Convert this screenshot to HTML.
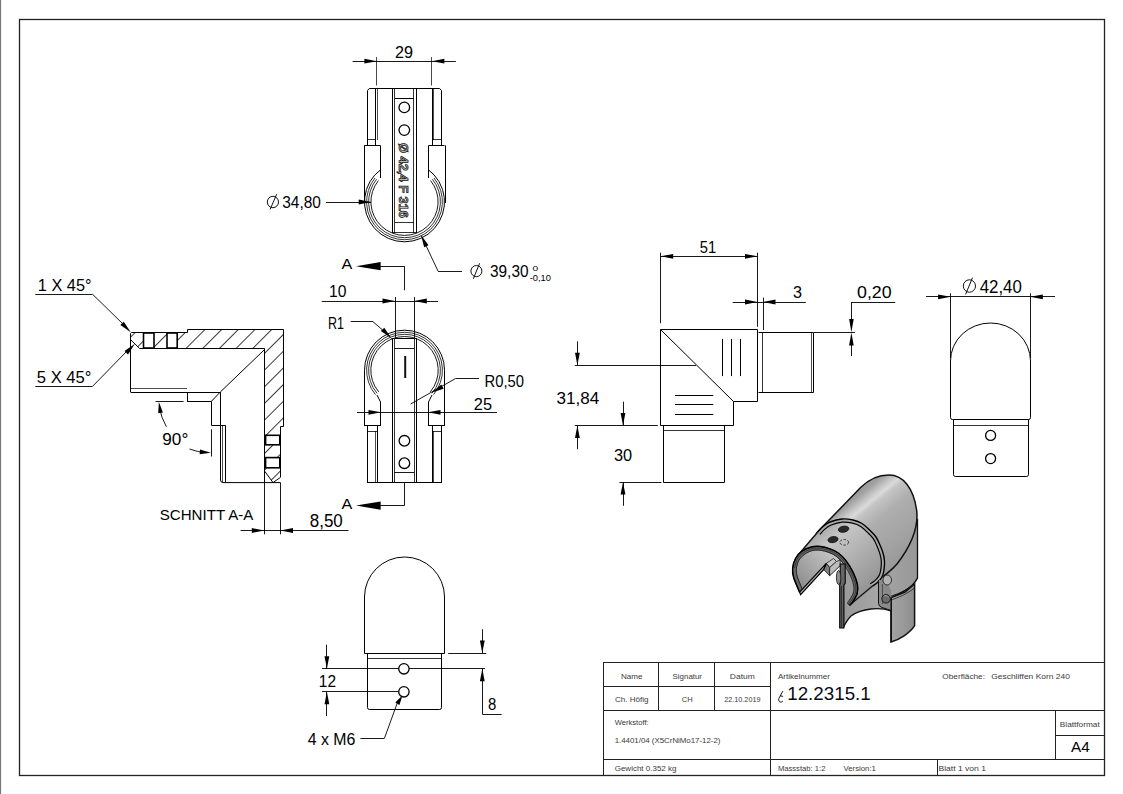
<!DOCTYPE html>
<html><head><meta charset="utf-8"><title>Drawing</title>
<style>html,body{margin:0;padding:0;background:#fff;} svg{display:block;}</style></head>
<body><svg width="1123" height="794" viewBox="0 0 1123 794" font-family="Liberation Sans, sans-serif">
<line x1="0.5" y1="0" x2="0.5" y2="794" stroke="#777" stroke-width="1.2" />
<rect x="19.5" y="19.5" width="1085.0" height="756.0" fill="none" stroke="#222" stroke-width="1.3" />
<line x1="376.5" y1="57" x2="376.5" y2="85.5" stroke="#333" stroke-width="0.9" />
<line x1="431.5" y1="57" x2="431.5" y2="85.5" stroke="#333" stroke-width="0.9" />
<line x1="352.6" y1="61.5" x2="455.9" y2="61.5" stroke="#000" stroke-width="0.9" />
<path d="M376.90,61.20 L364.40,63.60 L364.40,58.80 Z" fill="#000" stroke="none"/>
<path d="M431.90,61.20 L444.40,58.80 L444.40,63.60 Z" fill="#000" stroke="none"/>
<text x="395" y="58" font-family="Liberation Sans" font-size="17.2" fill="#000" text-anchor="start" textLength="18" lengthAdjust="spacingAndGlyphs" >29</text>
<path d="M367.5,145 L367.5,90.5 L369.3,88.5 L439.7,88.5 L441.5,90.5 L441.5,145" fill="none" stroke="#000" stroke-width="1.0" />
<line x1="375.5" y1="88.5" x2="375.5" y2="145" stroke="#000" stroke-width="1.0" />
<line x1="377.5" y1="88.5" x2="377.5" y2="140" stroke="#000" stroke-width="0.7" />
<line x1="367.1" y1="139.5" x2="375.6" y2="139.5" stroke="#000" stroke-width="0.8" />
<line x1="432.5" y1="88.5" x2="432.5" y2="145" stroke="#000" stroke-width="1.0" />
<line x1="433.5" y1="88.5" x2="433.5" y2="140" stroke="#000" stroke-width="0.7" />
<line x1="432" y1="139.5" x2="441.4" y2="139.5" stroke="#000" stroke-width="0.8" />
<path d="M364.5,145.5 L380.5,145.5 L380.5,178" fill="none" stroke="#000" stroke-width="1.0" />
<path d="M444.5,145.5 L428.5,145.5 L428.5,178" fill="none" stroke="#000" stroke-width="1.0" />
<line x1="364.5" y1="145.4" x2="364.5" y2="203" stroke="#000" stroke-width="1.0" />
<line x1="445.5" y1="145.4" x2="445.5" y2="203" stroke="#000" stroke-width="1.0" />
<path d="M380.90,169.50 A40.0,40.0 0 1 0 428.00,169.43" fill="none" stroke="#000" stroke-width="1.0" />
<path d="M375.05,177.95 A37.9,37.9 0 1 0 433.95,177.95" fill="none" stroke="#000" stroke-width="0.8" />
<path d="M376.60,179.21 A35.9,35.9 0 1 0 432.40,179.21" fill="none" stroke="#000" stroke-width="0.8" />
<path d="M378.39,180.65 A33.6,33.6 0 1 0 430.61,180.65" fill="none" stroke="#000" stroke-width="0.9" />
<line x1="392.5" y1="88.5" x2="392.5" y2="233" stroke="#000" stroke-width="1.0" />
<line x1="416.5" y1="88.5" x2="416.5" y2="233" stroke="#000" stroke-width="1.0" />
<line x1="394.5" y1="88.5" x2="394.5" y2="233" stroke="#000" stroke-width="0.8" />
<line x1="413.5" y1="88.5" x2="413.5" y2="233" stroke="#000" stroke-width="0.8" />
<line x1="394.9" y1="98.5" x2="413.9" y2="98.5" stroke="#000" stroke-width="1.0" />
<line x1="394.9" y1="222.5" x2="413.9" y2="222.5" stroke="#000" stroke-width="0.8" />
<line x1="392.8" y1="232.5" x2="416" y2="232.5" stroke="#000" stroke-width="0.8" />
<circle cx="404.3" cy="107.4" r="5.3" fill="none" stroke="#000" stroke-width="1.3"/>
<circle cx="404.3" cy="130.1" r="5.3" fill="none" stroke="#000" stroke-width="1.3"/>
<text x="0" y="0" font-family="Liberation Sans" font-weight="bold" font-size="13.5" fill="#bbb" stroke="#111" stroke-width="0.75" transform="translate(399.3,143) rotate(90)" textLength="75" lengthAdjust="spacingAndGlyphs">Ø 42,4 F 316</text>
<line x1="326" y1="202.5" x2="371" y2="202.5" stroke="#000" stroke-width="0.9" />
<path d="M371.20,202.00 L358.70,204.40 L358.70,199.60 Z" fill="#000" stroke="none"/>
<ellipse cx="272.9" cy="202" rx="5.6" ry="5.71" fill="none" stroke="#111" stroke-width="1.0"/>
<line x1="276.7" y1="194.2" x2="270.1" y2="209.5" stroke="#111" stroke-width="1.0" />
<text x="282.3" y="208" font-family="Liberation Sans" font-size="16.3" fill="#000" text-anchor="start" textLength="38.6" lengthAdjust="spacingAndGlyphs" >34,80</text>
<line x1="462" y1="271.5" x2="438" y2="271.5" stroke="#000" stroke-width="0.9" />
<line x1="438" y1="271" x2="421.5" y2="236" stroke="#000" stroke-width="0.9" />
<path d="M421.00,235.00 L428.50,245.28 L424.16,247.33 Z" fill="#000" stroke="none"/>
<ellipse cx="476.4" cy="271.1" rx="5.5" ry="5.61" fill="none" stroke="#111" stroke-width="1.0"/>
<line x1="479.6" y1="263.3" x2="473.3" y2="278.9" stroke="#111" stroke-width="1.0" />
<text x="490" y="277.4" font-family="Liberation Sans" font-size="16" fill="#000" text-anchor="start" textLength="38.5" lengthAdjust="spacingAndGlyphs" >39,30</text>
<text x="532.6" y="271.2" font-family="Liberation Sans" font-size="7.9" fill="#000" text-anchor="start" textLength="5.7" lengthAdjust="spacingAndGlyphs" >0</text>
<text x="529.7" y="281.2" font-family="Liberation Sans" font-size="9.3" fill="#000" text-anchor="start" textLength="21.2" lengthAdjust="spacingAndGlyphs" >-0,10</text>
<line x1="404.5" y1="266.2" x2="404.5" y2="290.3" stroke="#000" stroke-width="0.9" />
<line x1="380" y1="266.5" x2="404.4" y2="266.5" stroke="#000" stroke-width="0.9" />
<path d="M356.00,266.20 L380.60,262.10 L380.60,270.30 Z" fill="#000" stroke="none"/>
<text x="341.6" y="268.9" font-family="Liberation Sans" font-size="15" fill="#000" text-anchor="start" textLength="10.8" lengthAdjust="spacingAndGlyphs" >A</text>
<line x1="404.5" y1="482" x2="404.5" y2="505.6" stroke="#000" stroke-width="0.9" />
<line x1="380" y1="505.5" x2="404.5" y2="505.5" stroke="#000" stroke-width="0.9" />
<path d="M356.00,505.60 L380.60,501.50 L380.60,509.70 Z" fill="#000" stroke="none"/>
<text x="341.6" y="508.7" font-family="Liberation Sans" font-size="15" fill="#000" text-anchor="start" textLength="10.8" lengthAdjust="spacingAndGlyphs" >A</text>
<line x1="321.8" y1="301.5" x2="438" y2="301.5" stroke="#000" stroke-width="0.9" />
<path d="M395.00,301.00 L382.50,303.40 L382.50,298.60 Z" fill="#000" stroke="none"/>
<path d="M414.30,301.00 L426.80,298.60 L426.80,303.40 Z" fill="#000" stroke="none"/>
<text x="329" y="297" font-family="Liberation Sans" font-size="17" fill="#000" text-anchor="start" textLength="17.4" lengthAdjust="spacingAndGlyphs" >10</text>
<line x1="395.5" y1="297" x2="395.5" y2="338" stroke="#000" stroke-width="0.9" />
<line x1="414.5" y1="297" x2="414.5" y2="338" stroke="#000" stroke-width="0.9" />
<path d="M364.5,425.5 L364.5,370.2 A40,40 0 0 1 444.5,370.2 L444.5,425.5" fill="none" stroke="#000" stroke-width="1.0" />
<path d="M375.47,394.56 A37.9,37.9 0 1 1 433.53,394.56" fill="none" stroke="#000" stroke-width="0.8" />
<path d="M377.00,393.28 A35.9,35.9 0 1 1 432.00,393.28" fill="none" stroke="#000" stroke-width="0.8" />
<path d="M378.68,391.86 A33.7,33.7 0 1 1 430.32,391.86" fill="none" stroke="#000" stroke-width="0.9" />
<path d="M377,395 L380.5,402 L380.5,425.5" fill="none" stroke="#000" stroke-width="1.0" />
<path d="M432,395 L428.5,402 L428.5,425.5" fill="none" stroke="#000" stroke-width="1.0" />
<line x1="364" y1="425.5" x2="381" y2="425.5" stroke="#000" stroke-width="1.0" />
<line x1="428" y1="425.5" x2="445" y2="425.5" stroke="#000" stroke-width="1.0" />
<line x1="392.5" y1="338" x2="392.5" y2="482" stroke="#000" stroke-width="1.0" />
<line x1="394.5" y1="338" x2="394.5" y2="482" stroke="#000" stroke-width="0.8" />
<line x1="414.5" y1="338" x2="414.5" y2="482" stroke="#000" stroke-width="0.8" />
<line x1="416.5" y1="338" x2="416.5" y2="482" stroke="#000" stroke-width="1.0" />
<line x1="391.4" y1="338.5" x2="416.4" y2="338.5" stroke="#000" stroke-width="1.0" />
<line x1="394.4" y1="348.5" x2="414.3" y2="348.5" stroke="#000" stroke-width="0.9" />
<line x1="405.2" y1="356" x2="405.2" y2="378" stroke="#111" stroke-width="2.0" />
<circle cx="404.4" cy="440.8" r="5.3" fill="none" stroke="#000" stroke-width="1.3"/>
<circle cx="404.4" cy="463.2" r="5.3" fill="none" stroke="#000" stroke-width="1.3"/>
<line x1="394.4" y1="472.5" x2="414.3" y2="472.5" stroke="#000" stroke-width="0.9" />
<rect x="367.5" y="425.5" width="10.0" height="57.0" fill="none" stroke="#000" stroke-width="1.0" />
<line x1="367.4" y1="431.5" x2="377.3" y2="431.5" stroke="#000" stroke-width="0.8" />
<line x1="375.5" y1="431" x2="375.5" y2="482" stroke="#000" stroke-width="0.7" />
<rect x="432.5" y="425.5" width="9.0" height="57.0" fill="none" stroke="#000" stroke-width="1.0" />
<line x1="432" y1="431.5" x2="441.5" y2="431.5" stroke="#000" stroke-width="0.8" />
<line x1="433.5" y1="431" x2="433.5" y2="482" stroke="#000" stroke-width="0.7" />
<line x1="367.4" y1="482.5" x2="441.5" y2="482.5" stroke="#000" stroke-width="1.0" />
<text x="328" y="329" font-family="Liberation Sans" font-size="17" fill="#000" text-anchor="start" textLength="16" lengthAdjust="spacingAndGlyphs" >R1</text>
<line x1="350.7" y1="321.5" x2="373" y2="321.5" stroke="#000" stroke-width="0.9" />
<line x1="373" y1="321.7" x2="386" y2="333" stroke="#000" stroke-width="0.9" />
<path d="M391.40,338.20 L380.86,331.06 L384.26,327.66 Z" fill="#000" stroke="none"/>
<text x="484.5" y="386.5" font-family="Liberation Sans" font-size="17" fill="#000" text-anchor="start" textLength="39.5" lengthAdjust="spacingAndGlyphs" >R0,50</text>
<line x1="479" y1="378.5" x2="455.6" y2="378.5" stroke="#000" stroke-width="0.9" />
<line x1="455.6" y1="378.5" x2="410.6" y2="404" stroke="#000" stroke-width="0.9" />
<path d="M432.00,392.50 L441.28,384.52 L443.63,388.70 Z" fill="#000" stroke="none"/>
<text x="473.8" y="409.5" font-family="Liberation Sans" font-size="17" fill="#000" text-anchor="start" textLength="18.2" lengthAdjust="spacingAndGlyphs" >25</text>
<line x1="357" y1="412.5" x2="497" y2="412.5" stroke="#000" stroke-width="0.9" />
<path d="M381.00,412.30 L368.50,414.70 L368.50,409.90 Z" fill="#000" stroke="none"/>
<path d="M428.00,412.30 L440.50,409.90 L440.50,414.70 Z" fill="#000" stroke="none"/>
<defs><pattern id="hatch" patternUnits="userSpaceOnUse" width="11.795" height="20" patternTransform="rotate(45)"><line x1="0.5" y1="-1" x2="0.5" y2="21" stroke="#222" stroke-width="0.9"/></pattern></defs>
<path d="M130.6,339.7 L130.6,333.6 L131.4,332 L187.4,332 L187.4,329.4 L283.5,329.4 L283.5,426 L280.7,426 L280.7,477 L273,482.6 L264.7,471.2 L264.7,348.5 L139.7,348.5 Z" fill="url(#hatch)" stroke="none" stroke-width="0" />
<path d="M130.5,392 L130.5,333.6 L131.4,332.5 L187.5,332.5 L187.5,329.5 L283.5,329.5 L283.5,426.5 L280.5,426.5 L280.5,477.3 L273,482.6" fill="none" stroke="#000" stroke-width="1.0" />
<line x1="264.5" y1="348.5" x2="264.5" y2="482.6" stroke="#000" stroke-width="1.0" />
<line x1="139.7" y1="348.5" x2="264.7" y2="348.5" stroke="#000" stroke-width="1.0" />
<line x1="130.6" y1="339.7" x2="139.7" y2="348.5" stroke="#000" stroke-width="1.0" />
<line x1="264.7" y1="471.2" x2="273" y2="482.6" stroke="#000" stroke-width="1.0" />
<rect x="143.5" y="333" width="10.5" height="15" fill="#fff" stroke="#000" stroke-width="1.6" />
<rect x="167" y="333" width="10.199999999999989" height="15" fill="#fff" stroke="#000" stroke-width="1.6" />
<rect x="265.6" y="435.3" width="14.199999999999989" height="9.5" fill="#fff" stroke="#000" stroke-width="1.6" />
<rect x="265.6" y="457.6" width="14.199999999999989" height="10.199999999999989" fill="#fff" stroke="#000" stroke-width="1.6" />
<line x1="130.6" y1="392.5" x2="187" y2="392.5" stroke="#000" stroke-width="1.0" />
<line x1="131" y1="388.5" x2="187" y2="388.5" stroke="#000" stroke-width="0.7" />
<line x1="187" y1="392.5" x2="220.3" y2="392.5" stroke="#000" stroke-width="1.0" />
<line x1="187.5" y1="392" x2="187.5" y2="401.3" stroke="#000" stroke-width="1.0" />
<line x1="187" y1="401.5" x2="211.4" y2="401.5" stroke="#000" stroke-width="1.0" />
<line x1="211.4" y1="401.3" x2="220.3" y2="392" stroke="#000" stroke-width="1.0" />
<line x1="220.3" y1="392" x2="264.6" y2="349.5" stroke="#000" stroke-width="1.0" />
<line x1="211.5" y1="401.3" x2="211.5" y2="425.3" stroke="#000" stroke-width="1.0" />
<line x1="211.4" y1="425.5" x2="225.4" y2="425.5" stroke="#000" stroke-width="1.0" />
<line x1="220.5" y1="392" x2="220.5" y2="480" stroke="#000" stroke-width="1.0" />
<line x1="222.5" y1="425.3" x2="222.5" y2="482" stroke="#000" stroke-width="0.7" />
<line x1="225.5" y1="425.3" x2="225.5" y2="482.6" stroke="#000" stroke-width="1.0" />
<path d="M220.3,479 Q220.3,482.6 223,482.6 L280.7,482.6" fill="none" stroke="#000" stroke-width="1.0" />
<text x="37.8" y="290.7" font-family="Liberation Sans" font-size="16.5" fill="#000" text-anchor="start" textLength="53.7" lengthAdjust="spacingAndGlyphs" >1 X 45°</text>
<line x1="35.3" y1="294.5" x2="92.5" y2="294.5" stroke="#000" stroke-width="0.9" />
<line x1="92.5" y1="294.2" x2="125" y2="326" stroke="#000" stroke-width="0.9" />
<path d="M130.80,332.30 L120.34,325.05 L123.76,321.69 Z" fill="#000" stroke="none"/>
<text x="36.8" y="382.6" font-family="Liberation Sans" font-size="16.5" fill="#000" text-anchor="start" textLength="54.7" lengthAdjust="spacingAndGlyphs" >5 X 45°</text>
<line x1="35.3" y1="386.5" x2="92.5" y2="386.5" stroke="#000" stroke-width="0.9" />
<line x1="92.5" y1="386.4" x2="129" y2="349" stroke="#000" stroke-width="0.9" />
<path d="M134.90,343.70 L128.02,354.41 L124.54,351.10 Z" fill="#000" stroke="none"/>
<line x1="155.6" y1="401.5" x2="183.6" y2="401.5" stroke="#000" stroke-width="0.9" />
<path d="M166.4,426.8 Q161,417 159.5,408" fill="none" stroke="#000" stroke-width="0.9" />
<path d="M158.90,402.00 L162.91,412.52 L158.16,413.23 Z" fill="#000" stroke="none"/>
<text x="162.3" y="445.2" font-family="Liberation Sans" font-size="17" fill="#000" text-anchor="start" textLength="26" lengthAdjust="spacingAndGlyphs" >90°</text>
<path d="M189.5,449 Q198,452 204,452.5" fill="none" stroke="#000" stroke-width="0.9" />
<path d="M210.80,452.70 L199.64,454.22 L200.03,449.43 Z" fill="#000" stroke="none"/>
<line x1="211.5" y1="429.3" x2="211.5" y2="456.5" stroke="#000" stroke-width="0.9" />
<text x="159.8" y="520.3" font-family="Liberation Sans" font-size="15.3" fill="#000" text-anchor="start" textLength="93.5" lengthAdjust="spacingAndGlyphs" >SCHNITT A-A</text>
<line x1="264.5" y1="483" x2="264.5" y2="534.3" stroke="#000" stroke-width="0.9" />
<line x1="280.5" y1="483" x2="280.5" y2="534.3" stroke="#000" stroke-width="0.9" />
<line x1="240.6" y1="530.5" x2="348.5" y2="530.5" stroke="#000" stroke-width="0.9" />
<path d="M264.30,530.50 L251.80,532.90 L251.80,528.10 Z" fill="#000" stroke="none"/>
<path d="M280.50,530.50 L293.00,528.10 L293.00,532.90 Z" fill="#000" stroke="none"/>
<text x="309.8" y="527.4" font-family="Liberation Sans" font-size="17.5" fill="#000" text-anchor="start" textLength="33" lengthAdjust="spacingAndGlyphs" >8,50</text>
<path d="M364.5,653.5 L364.5,597 A40,40 0 0 1 444.5,597 L444.5,653.5 Z" fill="none" stroke="#000" stroke-width="1.0" />
<path d="M367.5,653.5 L367.5,707.5 Q367.5,709.5 369.5,709.5 L439.5,709.5 Q441.5,709.5 441.5,707.5 L441.5,653.5" fill="none" stroke="#000" stroke-width="1.0" />
<line x1="367" y1="658.5" x2="441.9" y2="658.5" stroke="#000" stroke-width="0.8" />
<circle cx="403.9" cy="668.8" r="5.2" fill="none" stroke="#000" stroke-width="1.3"/>
<circle cx="403.9" cy="691.8" r="5.2" fill="none" stroke="#000" stroke-width="1.3"/>
<line x1="322" y1="668.5" x2="398.6" y2="668.5" stroke="#000" stroke-width="0.9" />
<line x1="409.2" y1="668.5" x2="485" y2="668.5" stroke="#000" stroke-width="0.9" />
<line x1="322" y1="691.5" x2="398.6" y2="691.5" stroke="#000" stroke-width="0.9" />
<line x1="326.5" y1="644.7" x2="326.5" y2="668.8" stroke="#000" stroke-width="0.9" />
<path d="M326.90,668.80 L324.50,656.30 L329.30,656.30 Z" fill="#000" stroke="none"/>
<line x1="326.5" y1="691.8" x2="326.5" y2="716" stroke="#000" stroke-width="0.9" />
<path d="M326.90,691.80 L329.30,704.30 L324.50,704.30 Z" fill="#000" stroke="none"/>
<text x="318.8" y="687" font-family="Liberation Sans" font-size="16" fill="#000" text-anchor="start" textLength="17.2" lengthAdjust="spacingAndGlyphs" >12</text>
<line x1="448.2" y1="653.5" x2="486.2" y2="653.5" stroke="#000" stroke-width="0.9" />
<line x1="482.5" y1="629.2" x2="482.5" y2="653" stroke="#000" stroke-width="0.9" />
<path d="M482.30,653.00 L479.90,640.50 L484.70,640.50 Z" fill="#000" stroke="none"/>
<line x1="482.5" y1="668.8" x2="482.5" y2="714" stroke="#000" stroke-width="0.9" />
<path d="M482.30,668.80 L484.70,681.30 L479.90,681.30 Z" fill="#000" stroke="none"/>
<line x1="482.3" y1="714.5" x2="501.7" y2="714.5" stroke="#000" stroke-width="0.9" />
<text x="487.9" y="709.6" font-family="Liberation Sans" font-size="16" fill="#000" text-anchor="start" textLength="8.3" lengthAdjust="spacingAndGlyphs" >8</text>
<text x="307.8" y="744.5" font-family="Liberation Sans" font-size="16" fill="#000" text-anchor="start" textLength="47.6" lengthAdjust="spacingAndGlyphs" >4 x M6</text>
<line x1="360.4" y1="738.5" x2="384.5" y2="738.5" stroke="#000" stroke-width="0.9" />
<line x1="384.5" y1="738.1" x2="398" y2="701" stroke="#000" stroke-width="0.9" />
<path d="M402.50,695.20 L399.41,705.01 L395.30,702.54 Z" fill="#000" stroke="none"/>
<path d="M660.5,329.5 L757.5,329.5 L757.5,401.5 L733.5,401.5 L733.5,425.5 L660.5,425.5 Z" fill="none" stroke="#000" stroke-width="1.0" />
<line x1="660.5" y1="329.5" x2="733.5" y2="401.5" stroke="#000" stroke-width="1.0" />
<line x1="722.5" y1="338.9" x2="722.5" y2="376.1" stroke="#000" stroke-width="1.0" />
<line x1="731.5" y1="338.9" x2="731.5" y2="376.1" stroke="#000" stroke-width="1.0" />
<line x1="740.5" y1="338.9" x2="740.5" y2="376.1" stroke="#000" stroke-width="1.0" />
<line x1="675" y1="395.5" x2="713.3" y2="395.5" stroke="#000" stroke-width="1.0" />
<line x1="675" y1="404.5" x2="713.3" y2="404.5" stroke="#000" stroke-width="1.0" />
<line x1="675" y1="414.5" x2="713.3" y2="414.5" stroke="#000" stroke-width="1.0" />
<path d="M758.5,332.5 L813.5,332.5 L813.5,392.5 L758.5,392.5" fill="none" stroke="#000" stroke-width="1.0" />
<line x1="811.5" y1="332.3" x2="811.5" y2="392.6" stroke="#000" stroke-width="0.7" />
<line x1="762.5" y1="332.3" x2="762.5" y2="392.6" stroke="#000" stroke-width="0.8" />
<path d="M663.5,425.5 L663.5,482.5 L724.5,482.5 L724.5,425.5" fill="none" stroke="#000" stroke-width="1.0" />
<line x1="663.3" y1="430.5" x2="724.3" y2="430.5" stroke="#000" stroke-width="0.8" />
<line x1="660.5" y1="252.7" x2="660.5" y2="323.2" stroke="#000" stroke-width="0.9" />
<line x1="757.5" y1="252.7" x2="757.5" y2="326.8" stroke="#000" stroke-width="0.9" />
<line x1="660.7" y1="256.5" x2="757.5" y2="256.5" stroke="#000" stroke-width="0.9" />
<path d="M660.70,256.30 L673.20,253.90 L673.20,258.70 Z" fill="#000" stroke="none"/>
<path d="M757.50,256.30 L745.00,258.70 L745.00,253.90 Z" fill="#000" stroke="none"/>
<text x="699.8" y="252.7" font-family="Liberation Sans" font-size="16.5" fill="#000" text-anchor="start" textLength="16.4" lengthAdjust="spacingAndGlyphs" >51</text>
<line x1="763.5" y1="297.6" x2="763.5" y2="330" stroke="#000" stroke-width="0.9" />
<line x1="732.7" y1="302.5" x2="805.8" y2="302.5" stroke="#000" stroke-width="0.9" />
<path d="M757.50,302.00 L745.00,304.40 L745.00,299.60 Z" fill="#000" stroke="none"/>
<path d="M763.00,302.00 L775.50,299.60 L775.50,304.40 Z" fill="#000" stroke="none"/>
<text x="793" y="298.3" font-family="Liberation Sans" font-size="16.5" fill="#000" text-anchor="start" textLength="9" lengthAdjust="spacingAndGlyphs" >3</text>
<line x1="813.8" y1="332.5" x2="855" y2="332.5" stroke="#000" stroke-width="0.9" />
<line x1="851.4" y1="302.5" x2="895.3" y2="302.5" stroke="#000" stroke-width="0.9" />
<line x1="851.5" y1="302" x2="851.5" y2="322" stroke="#000" stroke-width="0.9" />
<path d="M851.40,332.30 L849.10,318.90 L853.70,318.90 Z" fill="#000" stroke="none"/>
<line x1="851.5" y1="344" x2="851.5" y2="356" stroke="#000" stroke-width="0.9" />
<path d="M851.40,332.60 L853.70,345.60 L849.10,345.60 Z" fill="#000" stroke="none"/>
<text x="857" y="298.3" font-family="Liberation Sans" font-size="16.5" fill="#000" text-anchor="start" textLength="34.6" lengthAdjust="spacingAndGlyphs" >0,20</text>
<line x1="574.8" y1="365.5" x2="696" y2="365.5" stroke="#000" stroke-width="0.9" />
<line x1="577.5" y1="341.4" x2="577.5" y2="365.2" stroke="#000" stroke-width="0.9" />
<path d="M577.40,365.20 L575.00,352.70 L579.80,352.70 Z" fill="#000" stroke="none"/>
<line x1="574.8" y1="425.5" x2="657.8" y2="425.5" stroke="#000" stroke-width="0.9" />
<line x1="577.5" y1="425.5" x2="577.5" y2="449.2" stroke="#000" stroke-width="0.9" />
<path d="M577.40,425.50 L579.80,438.00 L575.00,438.00 Z" fill="#000" stroke="none"/>
<text x="556.6" y="403.5" font-family="Liberation Sans" font-size="16.5" fill="#000" text-anchor="start" textLength="42.7" lengthAdjust="spacingAndGlyphs" >31,84</text>
<line x1="623.5" y1="401.7" x2="623.5" y2="425.5" stroke="#000" stroke-width="0.9" />
<path d="M623.00,425.50 L620.60,413.00 L625.40,413.00 Z" fill="#000" stroke="none"/>
<line x1="619.4" y1="482.5" x2="661.4" y2="482.5" stroke="#000" stroke-width="0.9" />
<line x1="623.5" y1="482.1" x2="623.5" y2="505.8" stroke="#000" stroke-width="0.9" />
<path d="M623.00,482.10 L625.40,494.60 L620.60,494.60 Z" fill="#000" stroke="none"/>
<text x="614" y="460.9" font-family="Liberation Sans" font-size="16.5" fill="#000" text-anchor="start" textLength="18.2" lengthAdjust="spacingAndGlyphs" >30</text>
<path d="M950.5,417.5 L950.5,361 A40,38 0 0 1 1030.5,361 L1030.5,417.5 Q1030.5,419.5 1028.5,419.5 L952.5,419.5 Q950.5,419.5 950.5,417.5" fill="none" stroke="#000" stroke-width="1.0" />
<path d="M953.5,419.5 L953.5,474.5 Q953.5,476.5 955.5,476.5 L1026.5,476.5 Q1028.5,476.5 1028.5,474.5 L1028.5,419.5" fill="none" stroke="#000" stroke-width="1.0" />
<line x1="953.5" y1="425.5" x2="1028.3" y2="425.5" stroke="#000" stroke-width="0.8" />
<circle cx="990.6" cy="435.4" r="5" fill="none" stroke="#000" stroke-width="1.3"/>
<circle cx="990.6" cy="458.6" r="5" fill="none" stroke="#000" stroke-width="1.3"/>
<line x1="950.5" y1="293.3" x2="950.5" y2="358" stroke="#000" stroke-width="0.9" />
<line x1="1030.5" y1="293.3" x2="1030.5" y2="358" stroke="#000" stroke-width="0.9" />
<line x1="926" y1="296.5" x2="1055" y2="296.5" stroke="#000" stroke-width="0.9" />
<path d="M950.60,296.80 L938.10,299.20 L938.10,294.40 Z" fill="#000" stroke="none"/>
<path d="M1030.30,296.80 L1042.80,294.40 L1042.80,299.20 Z" fill="#000" stroke="none"/>
<ellipse cx="969.4" cy="286" rx="6.1" ry="6.22" fill="none" stroke="#111" stroke-width="1.0"/>
<line x1="972.5" y1="277.7" x2="965.6" y2="294.4" stroke="#111" stroke-width="1.0" />
<text x="979.7" y="293" font-family="Liberation Sans" font-size="17.5" fill="#000" text-anchor="start" textLength="42.1" lengthAdjust="spacingAndGlyphs" >42,40</text>
<line x1="603.1" y1="662.5" x2="1104" y2="662.5" stroke="#222" stroke-width="1.0" />
<line x1="603.5" y1="662.4" x2="603.5" y2="775" stroke="#222" stroke-width="1.0" />
<line x1="658.5" y1="662.4" x2="658.5" y2="710.6" stroke="#222" stroke-width="1.0" />
<line x1="714.5" y1="662.4" x2="714.5" y2="710.6" stroke="#222" stroke-width="1.0" />
<line x1="770.5" y1="662.4" x2="770.5" y2="775" stroke="#222" stroke-width="1.0" />
<line x1="603.1" y1="686.5" x2="770.3" y2="686.5" stroke="#222" stroke-width="1.0" />
<line x1="603.1" y1="710.5" x2="1104" y2="710.5" stroke="#222" stroke-width="1.0" />
<line x1="603.1" y1="759.5" x2="1104" y2="759.5" stroke="#222" stroke-width="1.0" />
<line x1="1055.5" y1="710.6" x2="1055.5" y2="759.2" stroke="#222" stroke-width="1.0" />
<line x1="1055.4" y1="735.5" x2="1104" y2="735.5" stroke="#222" stroke-width="1.0" />
<line x1="937.5" y1="759.2" x2="937.5" y2="775" stroke="#222" stroke-width="1.0" />
<text x="620.9" y="679" font-family="Liberation Sans" font-size="7.8" fill="#3a3a3a" text-anchor="start" textLength="21.6" lengthAdjust="spacingAndGlyphs" >Name</text>
<text x="672.6" y="679" font-family="Liberation Sans" font-size="7.8" fill="#3a3a3a" text-anchor="start" textLength="29.4" lengthAdjust="spacingAndGlyphs" >Signatur</text>
<text x="729.8" y="679" font-family="Liberation Sans" font-size="7.8" fill="#3a3a3a" text-anchor="start" textLength="25" lengthAdjust="spacingAndGlyphs" >Datum</text>
<text x="615" y="702" font-family="Liberation Sans" font-size="7.8" fill="#3a3a3a" text-anchor="start" textLength="33.4" lengthAdjust="spacingAndGlyphs" >Ch. Höfig</text>
<text x="681.8" y="702" font-family="Liberation Sans" font-size="7.8" fill="#3a3a3a" text-anchor="start" textLength="10.9" lengthAdjust="spacingAndGlyphs" >CH</text>
<text x="724.2" y="702" font-family="Liberation Sans" font-size="7.8" fill="#3a3a3a" text-anchor="start" textLength="36.3" lengthAdjust="spacingAndGlyphs" >22.10.2019</text>
<text x="777.9" y="679" font-family="Liberation Sans" font-size="7.8" fill="#3a3a3a" text-anchor="start" textLength="52.1" lengthAdjust="spacingAndGlyphs" >Artikelnummer</text>
<text x="942.3" y="678.5" font-family="Liberation Sans" font-size="7.8" fill="#3a3a3a" text-anchor="start" textLength="42.7" lengthAdjust="spacingAndGlyphs" >Oberfläche:</text>
<text x="991.2" y="678.5" font-family="Liberation Sans" font-size="7.8" fill="#3a3a3a" text-anchor="start" textLength="78.8" lengthAdjust="spacingAndGlyphs" >Geschliffen Korn 240</text>
<path d="M782.6,691.5 L780.4,695.6 M780.4,695.9 L782.7,696.3 M780.6,695.4 C778.9,697.5 778.2,699.5 779,701 C779.8,702.5 781.6,702.6 782.6,701.4" fill="none" stroke="#111" stroke-width="0.95" stroke-linecap="round"/>
<text x="787.2" y="699.7" font-family="Liberation Sans" font-size="18.8" fill="#0a0a14" text-anchor="start" >12.2315.1</text>
<text x="614.7" y="724.5" font-family="Liberation Sans" font-size="7.8" fill="#3a3a3a" text-anchor="start" textLength="34" lengthAdjust="spacingAndGlyphs" >Werkstoff:</text>
<text x="614.7" y="743" font-family="Liberation Sans" font-size="7.8" fill="#3a3a3a" text-anchor="start" textLength="105.8" lengthAdjust="spacingAndGlyphs" >1.4401/04 (X5CrNiMo17-12-2)</text>
<text x="1059.8" y="726.5" font-family="Liberation Sans" font-size="7.8" fill="#3a3a3a" text-anchor="start" textLength="39.9" lengthAdjust="spacingAndGlyphs" >Blattformat</text>
<text x="1071" y="752.2" font-family="Liberation Sans" font-size="14.5" fill="#000" text-anchor="start" textLength="18.7" lengthAdjust="spacingAndGlyphs" >A4</text>
<text x="614.7" y="770.5" font-family="Liberation Sans" font-size="7.8" fill="#3a3a3a" text-anchor="start" textLength="61.8" lengthAdjust="spacingAndGlyphs" >Gewicht 0.352 kg</text>
<text x="777.9" y="770.5" font-family="Liberation Sans" font-size="7.8" fill="#3a3a3a" text-anchor="start" textLength="47.5" lengthAdjust="spacingAndGlyphs" >Massstab: 1:2</text>
<text x="843.5" y="770.5" font-family="Liberation Sans" font-size="7.8" fill="#3a3a3a" text-anchor="start" textLength="32.4" lengthAdjust="spacingAndGlyphs" >Version:1</text>
<text x="938.5" y="770.5" font-family="Liberation Sans" font-size="7.8" fill="#3a3a3a" text-anchor="start" textLength="47.5" lengthAdjust="spacingAndGlyphs" >Blatt 1 von 1</text>
<defs>
<linearGradient id="gDome" gradientUnits="userSpaceOnUse" x1="845" y1="492" x2="905" y2="565">
 <stop offset="0" stop-color="#929292"/><stop offset="0.12" stop-color="#a0a0a0"/><stop offset="0.21" stop-color="#cacaca"/><stop offset="0.25" stop-color="#dadada"/><stop offset="0.30" stop-color="#c4c4c4"/><stop offset="0.45" stop-color="#aeaeae"/><stop offset="0.75" stop-color="#a2a2a2"/><stop offset="1" stop-color="#969696"/></linearGradient>
<linearGradient id="gSleeve" gradientUnits="userSpaceOnUse" x1="812" y1="528" x2="872" y2="596">
 <stop offset="0" stop-color="#9c9c9c"/><stop offset="0.25" stop-color="#c6c6c6"/><stop offset="0.65" stop-color="#a8a8a8"/><stop offset="1" stop-color="#8e8e8e"/></linearGradient>
<linearGradient id="gInner" gradientUnits="userSpaceOnUse" x1="798" y1="585" x2="830" y2="552">
 <stop offset="0" stop-color="#8c8c8c"/><stop offset="0.5" stop-color="#a8a8a8"/><stop offset="1" stop-color="#c4c4c4"/></linearGradient>
<linearGradient id="gSpig" gradientUnits="userSpaceOnUse" x1="891" y1="0" x2="915" y2="0">
 <stop offset="0" stop-color="#a2a2a2"/><stop offset="0.5" stop-color="#9a9a9a"/><stop offset="1" stop-color="#8c8c8c"/></linearGradient>
<linearGradient id="gVert" gradientUnits="userSpaceOnUse" x1="843" y1="0" x2="917" y2="0">
 <stop offset="0" stop-color="#989898"/><stop offset="0.45" stop-color="#a6a6a6"/><stop offset="1" stop-color="#989898"/></linearGradient>
</defs>
<path d="M891,597.5 L891,642 C899,640 910,633 914.6,625.6 L914.6,584 L905,592 Z" fill="url(#gSpig)" stroke="#111" stroke-width="1.5" />
<path d="M843,628 L843,575 L880,560 L917.5,520 L917.5,578 C914,586 905,592 891,597.5 L891,611 C880,607 862,608 851,616 C847,620 845,624 843,628 Z" fill="url(#gVert)" stroke="#111" stroke-width="1.3" />
<path d="M917.3,578 C912,588 902,593 887,597.5" fill="none" stroke="#111" stroke-width="1.0" />
<path d="M816.5,533 L860.6,487.6 C868,480 878,475 889,475 C903,475 914,488 916.8,511.6 C918.5,530 910,547 897,564 C890,572 884,576 878,580 L840,560 Z" fill="url(#gDome)" stroke="#111" stroke-width="1.5" />
<path d="M818,531.5 C828,521 842,518.5 853,520.5 C868,524 880,540 884.4,561 C886,573 882,583 872,588 L849.5,605.2  C849.97,604.73 851.05,604.27 852.30,602.40 C853.55,600.53 856.15,596.95 857.00,594.00 C857.85,591.05 858.03,588.27 857.40,584.70 C856.77,581.13 855.13,576.63 853.20,572.60 C851.27,568.57 848.28,563.77 845.80,560.50 C843.32,557.23 840.93,554.93 838.30,553.00 C835.67,551.07 832.95,549.98 830.00,548.90 C827.05,547.82 823.72,546.82 820.60,546.50 C817.48,546.18 814.40,546.22 811.30,547.00 C808.20,547.78 804.63,549.27 802.00,551.20 C799.37,553.13 796.58,557.37 795.50,558.60 C803,548 810,540 818,531.5 Z" fill="url(#gSleeve)" stroke="none" stroke-width="0" />
<line x1="849.5" y1="605.2" x2="872.5" y2="586" stroke="#111" stroke-width="1.2" />
<path d="M797,556.5 C804,548 810,541 817.6,532.2" fill="none" stroke="#111" stroke-width="1.4" />
<path d="M817.60,532.20 C818.50,531.25 820.93,528.20 823.00,526.50 C825.07,524.80 826.83,523.25 830.00,522.00 C833.17,520.75 838.17,519.33 842.00,519.00 C845.83,518.67 849.67,519.25 853.00,520.00 C856.33,520.75 859.17,521.77 862.00,523.50 C864.83,525.23 867.67,528.15 870.00,530.40 C872.33,532.65 874.33,534.57 876.00,537.00 C877.67,539.43 878.83,542.33 880.00,545.00 C881.17,547.67 882.25,550.33 883.00,553.00 C883.75,555.67 884.33,558.17 884.50,561.00 C884.67,563.83 884.42,567.33 884.00,570.00 C883.58,572.67 883.08,574.92 882.00,577.00 C880.92,579.08 879.08,581.00 877.50,582.50 C875.92,584.00 873.33,585.42 872.50,586.00 L870.22,583.76 C871.00,583.24 873.41,581.99 874.90,580.64 C876.38,579.29 878.10,577.54 879.11,575.63 C880.11,573.72 880.54,571.64 880.91,569.19 C881.27,566.73 881.48,563.52 881.30,560.92 C881.13,558.32 880.56,556.03 879.86,553.59 C879.15,551.16 878.14,548.73 877.07,546.29 C876.01,543.85 874.98,541.18 873.46,538.95 C871.95,536.71 870.11,534.97 867.98,532.89 C865.86,530.80 863.30,528.05 860.72,526.43 C858.13,524.81 855.52,523.86 852.45,523.15 C849.38,522.44 845.85,521.89 842.31,522.18 C838.78,522.48 834.16,523.79 831.24,524.95 C828.33,526.11 826.70,527.56 824.81,529.14 C822.92,530.72 820.71,533.56 819.89,534.44 Z" fill="#a8a8a8" stroke="none" stroke-width="0" />
<path d="M817.60,532.20 C818.50,531.25 820.93,528.20 823.00,526.50 C825.07,524.80 826.83,523.25 830.00,522.00 C833.17,520.75 838.17,519.33 842.00,519.00 C845.83,518.67 849.67,519.25 853.00,520.00 C856.33,520.75 859.17,521.77 862.00,523.50 C864.83,525.23 867.67,528.15 870.00,530.40 C872.33,532.65 874.33,534.57 876.00,537.00 C877.67,539.43 878.83,542.33 880.00,545.00 C881.17,547.67 882.25,550.33 883.00,553.00 C883.75,555.67 884.33,558.17 884.50,561.00 C884.67,563.83 884.42,567.33 884.00,570.00 C883.58,572.67 883.08,574.92 882.00,577.00 C880.92,579.08 879.08,581.00 877.50,582.50 C875.92,584.00 873.33,585.42 872.50,586.00" fill="none" stroke="#000" stroke-width="1.4" />
<path d="M819.89,534.44 C820.71,533.56 822.92,530.72 824.81,529.14 C826.70,527.56 828.33,526.11 831.24,524.95 C834.16,523.79 838.78,522.48 842.31,522.18 C845.85,521.89 849.38,522.44 852.45,523.15 C855.52,523.86 858.13,524.81 860.72,526.43 C863.30,528.05 865.86,530.80 867.98,532.89 C870.11,534.97 871.95,536.71 873.46,538.95 C874.98,541.18 876.01,543.85 877.07,546.29 C878.14,548.73 879.15,551.16 879.86,553.59 C880.56,556.03 881.13,558.32 881.30,560.92 C881.48,563.52 881.27,566.73 880.91,569.19 C880.54,571.64 880.11,573.72 879.11,575.63 C878.10,577.54 876.38,579.29 874.90,580.64 C873.41,581.99 871.00,583.24 870.22,583.76" fill="none" stroke="#000" stroke-width="1.2" />
<path d="M802.60,590.00 C801.70,587.77 798.23,580.22 797.20,576.60 C796.17,572.98 796.13,571.02 796.40,568.30 C796.67,565.58 797.45,562.63 798.80,560.30 C800.15,557.97 802.30,555.92 804.50,554.30 C806.70,552.68 809.35,551.28 812.00,550.60 C814.65,549.92 817.60,549.90 820.40,550.20 C823.20,550.50 826.15,551.40 828.80,552.40 C831.45,553.40 833.97,554.47 836.30,556.20 C838.63,557.93 841.72,561.70 842.80,562.80 L845.2,564 L840.2,565.6 L829.6,575.7 L826.3,563.4 Z" fill="url(#gInner)" stroke="#111" stroke-width="0.6" />
<path d="M842.80,562.80 C843.93,564.67 847.80,570.27 849.60,574.00 C851.40,577.73 853.00,582.00 853.60,585.20 C854.20,588.40 853.92,590.70 853.20,593.20 C852.48,595.70 850.30,598.57 849.30,600.20 C848.30,601.83 847.55,602.53 847.20,603.00 L845.2,606 L845.2,564 Z" fill="#9c9c9c" stroke="none" stroke-width="0" />
<path d="M799.60,592.20 C798.60,589.72 794.75,581.33 793.60,577.30 C792.45,573.27 792.38,571.12 792.70,568.00 C793.02,564.88 793.95,561.40 795.50,558.60 C797.05,555.80 799.37,553.13 802.00,551.20 C804.63,549.27 808.20,547.78 811.30,547.00 C814.40,546.22 817.48,546.18 820.60,546.50 C823.72,546.82 827.05,547.82 830.00,548.90 C832.95,549.98 835.67,551.07 838.30,553.00 C840.93,554.93 843.32,557.23 845.80,560.50 C848.28,563.77 851.27,568.57 853.20,572.60 C855.13,576.63 856.77,581.13 857.40,584.70 C858.03,588.27 857.85,591.05 857.00,594.00 C856.15,596.95 853.55,600.53 852.30,602.40 C851.05,604.27 849.97,604.73 849.50,605.20 L847.2,603 C847.55,602.53 848.30,601.83 849.30,600.20 C850.30,598.57 852.48,595.70 853.20,593.20 C853.92,590.70 854.20,588.40 853.60,585.20 C853.00,582.00 851.40,577.73 849.60,574.00 C847.80,570.27 845.02,565.77 842.80,562.80 C840.58,559.83 838.63,557.93 836.30,556.20 C833.97,554.47 831.45,553.40 828.80,552.40 C826.15,551.40 823.20,550.50 820.40,550.20 C817.60,549.90 814.65,549.92 812.00,550.60 C809.35,551.28 806.70,552.68 804.50,554.30 C802.30,555.92 800.15,557.97 798.80,560.30 C797.45,562.63 796.67,565.58 796.40,568.30 C796.13,571.02 796.17,572.98 797.20,576.60 C798.23,580.22 801.70,587.77 802.60,590.00 Z" fill="#6a6a6a" stroke="#111" stroke-width="0.8" />
<path d="M799.60,592.20 C798.60,589.72 794.75,581.33 793.60,577.30 C792.45,573.27 792.38,571.12 792.70,568.00 C793.02,564.88 793.95,561.40 795.50,558.60 C797.05,555.80 799.37,553.13 802.00,551.20 C804.63,549.27 808.20,547.78 811.30,547.00 C814.40,546.22 817.48,546.18 820.60,546.50 C823.72,546.82 827.05,547.82 830.00,548.90 C832.95,549.98 835.67,551.07 838.30,553.00 C840.93,554.93 843.32,557.23 845.80,560.50 C848.28,563.77 851.27,568.57 853.20,572.60 C855.13,576.63 856.77,581.13 857.40,584.70 C858.03,588.27 857.85,591.05 857.00,594.00 C856.15,596.95 853.55,600.53 852.30,602.40 C851.05,604.27 849.97,604.73 849.50,605.20" fill="none" stroke="#000" stroke-width="1.5" />
<path d="M794.55,568.15 C794.98,566.70 795.70,562.02 797.15,559.45 C798.60,556.88 800.83,554.52 803.25,552.75 C805.67,550.98 808.77,549.53 811.65,548.80 C814.52,548.07 817.54,548.04 820.50,548.35 C823.46,548.66 826.60,549.61 829.40,550.65 C832.20,551.69 834.82,552.77 837.30,554.60 C839.78,556.43 841.95,558.53 844.30,561.65 C846.65,564.77 849.53,569.42 851.40,573.30 C853.27,577.18 854.88,581.57 855.50,584.95 C856.12,588.33 855.88,590.88 855.10,593.60 C854.32,596.33 851.92,599.55 850.80,601.30 C849.67,603.05 848.76,603.63 848.35,604.10" fill="none" stroke="#222" stroke-width="0.7" />
<path d="M826.3,563.4 L829.6,567.5 L836.5,561.5 L833.5,558.5 Z" fill="#c6c6c6" stroke="#111" stroke-width="0.7" />
<path d="M829.6,567.5 L829.6,575.7 L840.2,565.6 L840.2,560 L836.5,561.5 Z" fill="#bdbdbd" stroke="#111" stroke-width="0.7" />
<path d="M826.3,563.4 L823.6,569.6 L829.6,575.7 L829.6,567.5 Z" fill="#7c7c7c" stroke="#111" stroke-width="0.7" />
<path d="M799.6,592.2 L826.3,563.4 L823.6,569.6 L800.6,594.6 Z" fill="#a8a8a8" stroke="#000" stroke-width="1.2" />
<path d="M840.2,564 L845.2,564 L845.2,583 L843.9,585 L843.9,628 L839.7,628 L839.7,585 L840.2,583 Z" fill="#666" stroke="#000" stroke-width="1.1" />
<ellipse cx="838.6" cy="577.5" rx="2.2" ry="7" fill="#8e8e8e" stroke="#111" stroke-width="0.8"/>
<line x1="841.5" y1="586" x2="841.5" y2="627" stroke="#333" stroke-width="1.2" />
<ellipse cx="843.6" cy="529.2" rx="5.3" ry="3.0" fill="#2a2a2a" stroke="#111" stroke-width="0.8" transform="rotate(-10 843.6 529.2)"/>
<ellipse cx="833" cy="539.6" rx="5.1" ry="3.0" fill="#2a2a2a" stroke="#111" stroke-width="0.8" transform="rotate(-10 833 539.6)"/>
<ellipse cx="844.2" cy="542.3" rx="4.4" ry="2.8" fill="none" stroke="#222" stroke-width="0.8" stroke-dasharray="2.5 1.5"/>
<path d="M878.5,580 L878.5,603.5 Q878.8,606.5 882,607.5 L891.2,610.5 L891.2,590 L885,580 Z" fill="#8a8a8a" stroke="none" stroke-width="0" />
<path d="M878.5,580 L878.5,603.5 Q878.8,606.5 882,607.5 L891.2,610.5" fill="none" stroke="#111" stroke-width="1.0" />
<line x1="882.5" y1="584" x2="882.5" y2="604" stroke="#333" stroke-width="0.7" />
<ellipse cx="887.2" cy="580" rx="4.3" ry="5" fill="#b4b4b4" stroke="#111" stroke-width="0.8"/>
<circle cx="886.1" cy="598.8" r="4.3" fill="#6a6a6a" stroke="#111" stroke-width="0.9"/>
<path d="M883,597 A3.2,3.2 0 0 1 889,598.5 A3.6,3.6 0 0 0 883,597 Z" fill="#bbb"/>
<line x1="891.2" y1="597.5" x2="891.2" y2="642" stroke="#111" stroke-width="1.5" />
<path d="M891.4,600 C898,597.5 907,594 914.6,588" fill="none" stroke="#111" stroke-width="0.7" />
</svg></body></html>
